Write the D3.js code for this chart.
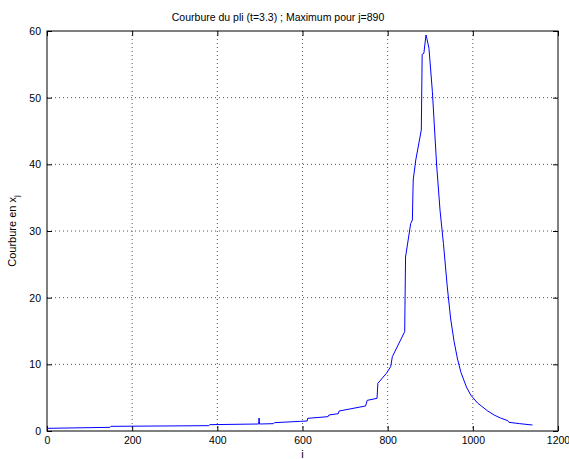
<!DOCTYPE html>
<html>
<head>
<meta charset="utf-8">
<script src="https://cdn.jsdelivr.net/npm/d3@7"></script>
<style>
  body { margin: 0; background: #fff; }
  svg { font-family: "Liberation Sans", Arial, sans-serif; }
</style>
</head>
<body>
<div class="chart"></div>
<script>
// Data
var jIndex = [0, 148, 150, 380, 382, 497, 498, 499, 532, 534, 595, 611, 612, 660, 662, 684, 686,
    748, 752, 775, 777, 797, 807, 811, 840, 842, 854, 858, 860, 866, 879, 881, 885, 890,
    892, 897, 905, 915, 923, 931, 940, 948, 956, 964, 972, 985, 995, 1011, 1019, 1035, 1050,
    1065, 1082, 1085, 1110, 1140];
var courbure = [0.4, 0.55, 0.7, 0.8, 0.95, 1.05, 1.95, 1.05, 1.1, 1.25, 1.45, 1.5, 1.9, 2.15, 2.4, 2.6, 3.0,
    3.75, 4.6, 4.9, 7.15, 8.65, 9.65, 11.15, 14.9, 26.1, 31.1, 31.65, 37.65, 40.65, 45.15, 56.5, 56.65, 59.4,
    58.9, 57.4, 50.9, 39.9, 33.1, 28.1, 21.6, 16.8, 13.4, 10.8, 8.8, 6.6, 5.4, 4.2, 3.8, 3.0, 2.4,
    1.95, 1.55, 1.3, 1.1, 0.9];
var xTicks = [0, 200, 400, 600, 800, 1000, 1200];
var yTicks = [0, 10, 20, 30, 40, 50, 60];
var titleText = "Courbure du pli (t=3.3) ; Maximum pour j=890";

var svgWidth = 569, svgHeight = 459;
var margin = {top: 31, right: 11, bottom: 28, left: 47};
var width = svgWidth - margin.left - margin.right;
var height = svgHeight - margin.top - margin.bottom;

var svg = d3.select(".chart").append("svg")
    .attr("width", svgWidth)
    .attr("height", svgHeight);

var chartGroup = svg.append("g")
    .attr("transform", `translate(${margin.left}, ${margin.top})`);

var xScale = d3.scaleLinear().domain([0, 1200]).range([0, width]);
var yScale = d3.scaleLinear().domain([0, 60]).range([height, 0]);

// Grid (dotted)
chartGroup.append("g").selectAll("line")
    .data(xTicks.slice(1, -1))
    .enter().append("line")
    .attr("x1", d => xScale(d)).attr("x2", d => xScale(d))
    .attr("y1", 0).attr("y2", height)
    .attr("stroke", "#555").attr("stroke-width", 1)
    .attr("stroke-dasharray", "1,3");
chartGroup.append("g").selectAll("line")
    .data(yTicks.slice(1, -1))
    .enter().append("line")
    .attr("y1", d => yScale(d)).attr("y2", d => yScale(d))
    .attr("x1", 0).attr("x2", width)
    .attr("stroke", "#555").attr("stroke-width", 1)
    .attr("stroke-dasharray", "1,3");

// Axes with inward ticks on all four sides
function styleAxis(g) {
    g.select(".domain").remove();
    g.selectAll(".tick line").attr("stroke", "#000");
    g.selectAll(".tick text").attr("fill", "#000").style("font-size", "10.5px");
}
chartGroup.append("g")
    .attr("transform", `translate(0, ${height})`)
    .call(d3.axisBottom(xScale).tickValues(xTicks).tickFormat(d3.format("d"))
        .tickSizeInner(-5).tickSizeOuter(0).tickPadding(6))
    .call(styleAxis);
chartGroup.append("g")
    .call(d3.axisTop(xScale).tickValues(xTicks).tickSizeInner(-5).tickSizeOuter(0).tickFormat(""))
    .call(styleAxis);
chartGroup.append("g")
    .call(d3.axisLeft(yScale).tickValues(yTicks).tickSizeInner(-5).tickSizeOuter(0).tickPadding(6))
    .call(styleAxis);
chartGroup.append("g")
    .attr("transform", `translate(${width}, 0)`)
    .call(d3.axisRight(yScale).tickValues(yTicks).tickSizeInner(-5).tickSizeOuter(0).tickFormat(""))
    .call(styleAxis);

// Box
chartGroup.append("rect")
    .attr("x", 0).attr("y", 0)
    .attr("width", width).attr("height", height)
    .attr("fill", "none").attr("stroke", "#000").attr("stroke-width", 1);

// Curve
var line = d3.line()
    .x((d, k) => xScale(jIndex[k]))
    .y(d => yScale(d));
chartGroup.append("path")
    .datum(courbure)
    .attr("d", line)
    .attr("fill", "none")
    .attr("stroke", "#0000ff")
    .attr("stroke-width", 1);

// Labels
svg.append("text")
    .attr("x", 278).attr("y", 21)
    .attr("text-anchor", "middle")
    .style("font-size", "10.5px")
    .text(titleText);
svg.append("text")
    .attr("x", margin.left + width / 2).attr("y", 458)
    .attr("text-anchor", "middle")
    .style("font-size", "11px")
    .text("i");
var yLabel = svg.append("text")
    .attr("transform", `translate(16, ${margin.top + height / 2}) rotate(-90)`)
    .attr("text-anchor", "middle")
    .style("font-size", "11px");
yLabel.append("tspan").text("Courbure en x");
yLabel.append("tspan").attr("dy", 3).style("font-size", "8px").text("j");
</script>
</body>
</html>
